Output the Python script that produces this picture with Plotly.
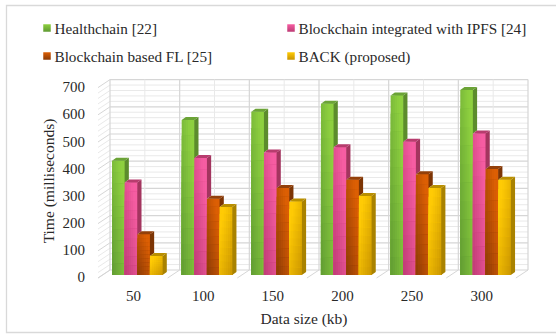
import plotly.graph_objects as go

categories = ["50", "100", "150", "200", "250", "300"]
series_names = ["Healthchain [22]", "Blockchain integrated with IPFS [24]",
                "Blockchain based FL [25]", "BACK (proposed)"]
healthchain = [420, 570, 600, 630, 660, 680]
ipfs = [340, 430, 450, 470, 490, 520]
fl = [150, 280, 320, 350, 370, 390]
back = [70, 250, 270, 290, 320, 350]
y_ticks = [0, 100, 200, 300, 400, 500, 600, 700]

series_values = [healthchain, ipfs, fl, back]

W, H = 556, 334
FONT = "Liberation Serif, Times New Roman, serif"
TXT = "#292929"
# (light, dark, side, cap, dark side: 0=left, 1=right)
STYLE = [
    ("#8ed03f", "#5f9a32", "#5c8c2c", "#6ba336", 0),
    ("#f65da2", "#bd3a74", "#a3355f", "#b73c6e", 0),
    ("#dc5f04", "#8a3a06", "#7c3404", "#93400a", 0),
    ("#ffcb05", "#c99400", "#a98200", "#b98f00", 1),
]

# pixel geometry of the plotting area
DOM_L, DOM_R, DOM_T, DOM_B = 70, 538, 78, 284
CAT_PX, CAT0 = 69.65, 133.5
Y_PX, Y0 = 0.272, 275.0


def xv(px):
    return (px - CAT0) / CAT_PX


def yv(py):
    return (Y0 - py) / Y_PX


BAR_W = 12.65 / CAT_PX
BAR_START = xv(112)
DX, DY = 4.2 / CAT_PX, 3.0 / Y_PX
N_STRIP, LEVELS = 6, [1.0, 0.9, 0.8, 0.7, 0.6, 0.5, 0.4, 0.3, 0.2, 0.1]


def hex2rgb(c):
    return [int(c[i:i + 2], 16) for i in (1, 3, 5)]


def mix(a, b, t):
    ra, rb = hex2rgb(a), hex2rgb(b)
    return "rgb(%d,%d,%d)" % tuple(round(x + (y - x) * t) for x, y in zip(ra, rb))


fig = go.Figure()
xs = list(range(len(categories)))

# Gradient faces: overlaid bars, tallest first, each strip running to the bar's right edge
for s, vals in enumerate(series_values):
    light, dark, side, cap, dside = STYLE[s]
    x0 = BAR_START + s * BAR_W
    for lv in LEVELS:
        for k in range(N_STRIP):
            fx = (k + 0.5) / N_STRIP
            h = fx if dside == 0 else 1 - fx
            d = max(0.0, (1 - h) * 0.6 + (1 - lv) * 0.6 - 0.2)
            fig.add_trace(go.Bar(
                x=xs, y=[v * lv for v in vals], width=BAR_W * (N_STRIP - k) / N_STRIP,
                offset=x0 + k * BAR_W / N_STRIP,
                marker=dict(color=mix(light, dark, min(d, 1)), line=dict(width=0)),
                showlegend=False, hoverinfo="skip"))

# Side and top faces of each bar
for s, vals in enumerate(series_values):
    light, dark, side, cap, dside = STYLE[s]
    x0 = BAR_START + s * BAR_W
    sx, sy, cx, cy = [], [], [], []
    for i, v in zip(xs, vals):
        low = series_values[s + 1][i] if s < 3 else 0
        low = min(low, v)
        a, b = i + x0, i + x0 + BAR_W
        sx += [b, b + DX, b + DX, b, b, None]
        sy += [low, low + DY, v + DY, v, low, None]
        cx += [a, a + DX, b + DX, b, a, None]
        cy += [v, v + DY, v + DY, v, v, None]
    for px_, py_, col in ((sx, sy, side), (cx, cy, cap)):
        fig.add_trace(go.Scatter(x=px_, y=py_, mode="lines", fill="toself",
                                 fillcolor=col, line=dict(width=0), showlegend=False,
                                 hoverinfo="skip"))

# Legend entries (text) with a swatch placed tight against each one
LEG = [(27.5, 28), (271.5, 28), (27.5, 56), (271.5, 56)]
SWATCH = [(47, 28), (291, 28), (47, 56), (291, 56)]
for s, name in enumerate(series_names):
    light, dark, side, cap, dside = STYLE[s]
    fig.add_trace(go.Scatter(
        x=[None], y=[None], yaxis="y2", mode="markers", name=name,
        legend="legend" if s == 0 else f"legend{s + 1}",
        marker=dict(symbol="square", size=1, opacity=0, color="rgba(255,255,255,0)")))
    fig.add_trace(go.Scatter(
        x=[SWATCH[s][0]], y=[SWATCH[s][1]], xaxis="x2", yaxis="y3", mode="markers",
        cliponaxis=False, showlegend=False, hoverinfo="skip",
        marker=dict(symbol="square", size=7.5, color=light, line=dict(width=0),
                    gradient=dict(type="vertical", color=dark))))

# Chart walls
GRID, MINOR = "#d6d6d6", "#e9e9e9"
BX0, BX1, BY = xv(110), xv(528), 5 / Y_PX   # back wall
FX0, FY = xv(98), -3 / Y_PX                 # front edge of the floor
shapes = []


def seg(x0, y0, x1, y1, col, w=1):
    shapes.append(dict(type="line", xref="x", yref="y", x0=x0, y0=y0, x1=x1, y1=y1,
                       layer="below", line=dict(color=col, width=w)))


for m in range(0, 701, 20):
    major = m % 100 == 0
    col = GRID if major else MINOR
    w = 1.2 if major else 1
    seg(BX0, m + BY, BX1, m + BY, col, w)
    seg(FX0, m + FY, BX0, m + BY, col, 1)
for k in range(0, 13):
    vx = BX0 + k * (BX1 - BX0) / 12
    major = k % 2 == 0
    seg(vx, BY, vx, 700 + BY, GRID if major else MINOR, 1.2 if major else 1)
    if major:
        seg(FX0 + k / 2, FY, vx, BY, GRID, 1)

# Outer frame
shapes.append(dict(type="rect", xref="paper", yref="paper", x0=6.5 / W, x1=1.01,
                   y0=1 - 332.5 / H, y1=1 - 5.5 / H, layer="below",
                   line=dict(color="#d9d9d9", width=1.3), fillcolor="white"))

layout = dict(
    width=W, height=H, margin=dict(l=0, r=0, t=0, b=0), autosize=False,
    paper_bgcolor="white", plot_bgcolor="rgba(0,0,0,0)", barmode="overlay",
    font=dict(family=FONT, size=15.2, color=TXT), shapes=shapes, hovermode=False,
    xaxis=dict(domain=[DOM_L / W, DOM_R / W], range=[xv(DOM_L), xv(DOM_R)],
               tickmode="array", tickvals=xs, ticktext=categories, showgrid=False,
               zeroline=False, showline=False, ticks="", automargin=False,
               tickfont=dict(size=15, family=FONT, color=TXT), ticklabelstandoff=1,
               title=dict(text="Data size (kb)", standoff=10,
                          font=dict(size=15.5, family=FONT, color=TXT))),
    xaxis2=dict(domain=[0, 1], range=[0, W], anchor="y3", visible=False),
    yaxis=dict(domain=[1 - DOM_B / H, 1 - DOM_T / H], range=[yv(DOM_B), yv(DOM_T)],
               showgrid=False, zeroline=False, showline=False, showticklabels=False,
               ticks="", automargin=False),
    yaxis2=dict(domain=[1 - DOM_B / H, 1 - DOM_T / H], overlaying="y", anchor="free",
                position=92 / W, side="left",
                range=[(277 - DOM_B) / 0.2714, (277 - DOM_T) / 0.2714],
                tickmode="array", tickvals=y_ticks, showgrid=False, zeroline=False,
                showline=False, ticks="", automargin=False, ticklabelstandoff=7,
                tickfont=dict(size=15, family=FONT, color=TXT),
                title=dict(text="Time (milliseconds)", standoff=3,
                           font=dict(size=15.5, family=FONT, color=TXT))),
    yaxis3=dict(domain=[0, 1], range=[H, 0], anchor="x2", visible=False),
)
for s, (lx, ly) in enumerate(LEG):
    key = "legend" if s == 0 else f"legend{s + 1}"
    layout[key] = dict(x=lx / W, y=1 - ly / H, xanchor="left", yanchor="middle",
                       indentation=-13, bgcolor="rgba(0,0,0,0)",
                       font=dict(size=15.2, family=FONT, color=TXT))
fig.update_layout(**layout)

fig.write_html("out.html", config=dict(displayModeBar=False),
               post_script="document.body.style.margin='0';document.documentElement.style.overflow='hidden';")
